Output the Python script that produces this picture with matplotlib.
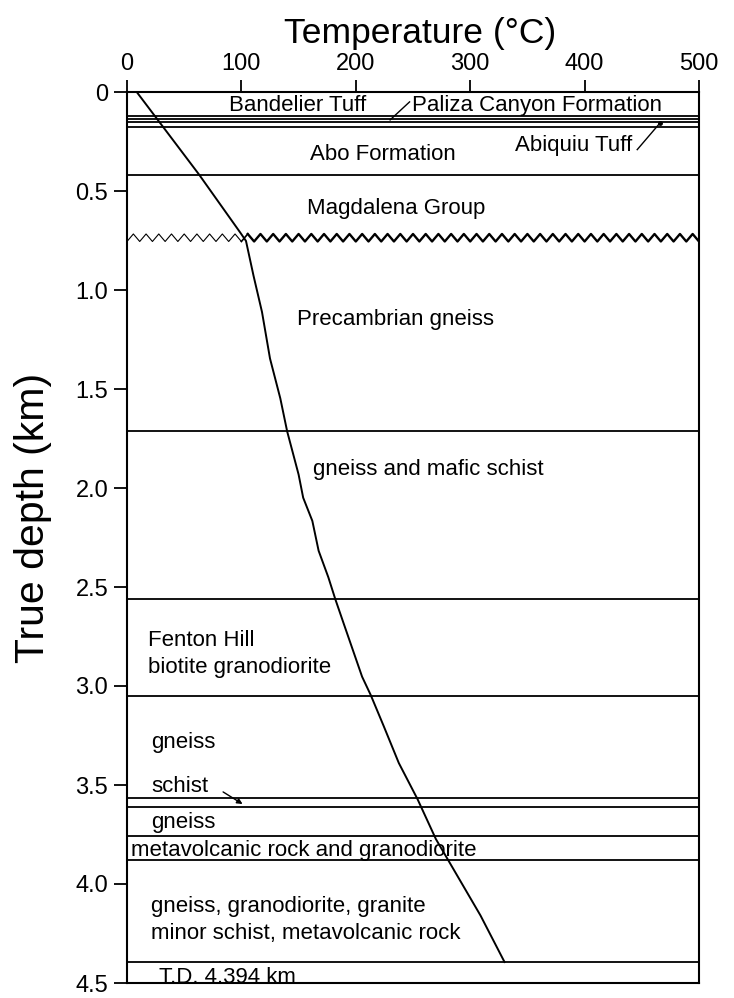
import numpy as np
import matplotlib
matplotlib.use("Agg")
import matplotlib.pyplot as plt

plt.rcParams['font.family'] = ['Liberation Sans', 'DejaVu Sans']

# temperature profile (deg C vs true depth km)
temp_c = [8.5, 63, 99, 104, 110.6, 118, 125, 134, 140, 150, 154, 162, 167.5,
          176, 182, 189.5, 205.5, 213, 224.5, 237.6, 254, 270, 288.7, 309, 330]
depth_km = [0, 0.417, 0.71, 0.752, 0.928, 1.111, 1.346, 1.547, 1.714, 1.932,
            2.049, 2.166, 2.317, 2.451, 2.56, 2.686, 2.953, 3.045, 3.204, 3.389,
            3.572, 3.773, 3.958, 4.159, 4.394]

# layer boundaries (km)
boundaries = [0.119, 0.135, 0.152, 0.179, 0.417, 1.714, 2.56, 3.049,
              3.568, 3.611, 3.757, 3.879, 4.394]
unconformity_depth = 0.736
unconformity_half_amp = 0.019
unconformity_period = 11.0   # deg C per tooth
unconformity_split = 100.0   # where fine zigzag becomes bold

# labels: (text, left temperature, baseline depth)
labels = [
    ("Bandelier Tuff", 89, 0.095),
    ("Paliza Canyon Formation", 249, 0.095),
    ("Abiquiu Tuff", 339, 0.296),
    ("Abo Formation", 160, 0.342),
    ("Magdalena Group", 157, 0.618),
    ("Precambrian gneiss", 148.6, 1.178),
    ("gneiss and mafic schist", 163, 1.934),
    ("Fenton Hill", 18.4, 2.798),
    ("biotite granodiorite", 18.4, 2.933),
    ("gneiss", 21, 3.315),
    ("schist", 21, 3.536),
    ("gneiss", 21, 3.717),
    ("metavolcanic rock and granodiorite", 3.5, 3.857),
    ("gneiss, granodiorite, granite", 21, 4.143),
    ("minor schist, metavolcanic rock", 21, 4.279),
    ("T.D. 4.394 km", 27.7, 4.50),
]
# leader lines: (T0, d0, T1, d1)
leaders = [
    (247, 0.05, 230, 0.141),
    (446, 0.291, 466, 0.156),
]
schist_arrow = (84, 3.535, 101, 3.596)

xticks = [0, 100, 200, 300, 400, 500]
yticks = [0, 0.5, 1.0, 1.5, 2.0, 2.5, 3.0, 3.5, 4.0, 4.5]
ytick_labels = ["0", "0.5", "1.0", "1.5", "2.0", "2.5", "3.0", "3.5", "4.0", "4.5"]

W, H = 734, 998
fig = plt.figure(figsize=(W / 100, H / 100), dpi=100)
ax = fig.add_axes([127 / W, 1 - 983 / H, (699 - 127) / W, (983 - 92) / H])
ax.set_xlim(0, 500)
ax.set_ylim(4.5, 0)

for b in boundaries:
    ax.axhline(b, color='black', lw=1.3)

# unconformity zigzag
n_pts = int(500 / (unconformity_period / 2)) + 1
zx = np.linspace(0, 500, n_pts)
zy = unconformity_depth + unconformity_half_amp * np.where(np.arange(n_pts) % 2 == 0, 1, -1)
left = zx <= unconformity_split + 1e-9
ax.plot(zx[left], zy[left], color='black', lw=0.8)
ax.plot(zx[~left], zy[~left], color='black', lw=1.7)
ax.plot([zx[left][-1], zx[~left][0]], [zy[left][-1], zy[~left][0]], color='black', lw=1.2)

ax.plot(temp_c, depth_km, color='black', lw=1.4)

for txt, t, d in labels:
    ax.text(t, d, txt, fontsize=16, ha='left', va='baseline', clip_on=False)
for t0, d0, t1, d1 in leaders:
    ax.plot([t0, t1], [d0, d1], color='black', lw=1.0)
ax.plot([466], [0.156], 'o', color='black', ms=2.5)
ax.annotate("", xy=(schist_arrow[2], schist_arrow[3]), xytext=(schist_arrow[0], schist_arrow[1]),
            arrowprops=dict(arrowstyle='-|>', color='black', lw=1.0, mutation_scale=8,
                            shrinkA=0, shrinkB=0))

ax.xaxis.tick_top()
ax.set_xticks(xticks)
ax.set_xticklabels([str(v) for v in xticks])
ax.set_yticks(yticks)
ax.set_yticklabels(ytick_labels)
ax.tick_params(axis='x', direction='out', length=9, width=1.3, labelsize=17, pad=3)
ax.tick_params(axis='y', direction='out', length=9.5, width=1.3, labelsize=17, pad=4)
for s in ax.spines.values():
    s.set_linewidth(1.5)

fig.text(420 / W, 1 - 34 / H, "Temperature (°C)", fontsize=25.5, ha='center', va='center')
fig.text(33 / W, 1 - 518 / H, "True depth (km)", fontsize=29.5, ha='center', va='center', rotation=90)

fig.savefig("out.png", dpi=100)
